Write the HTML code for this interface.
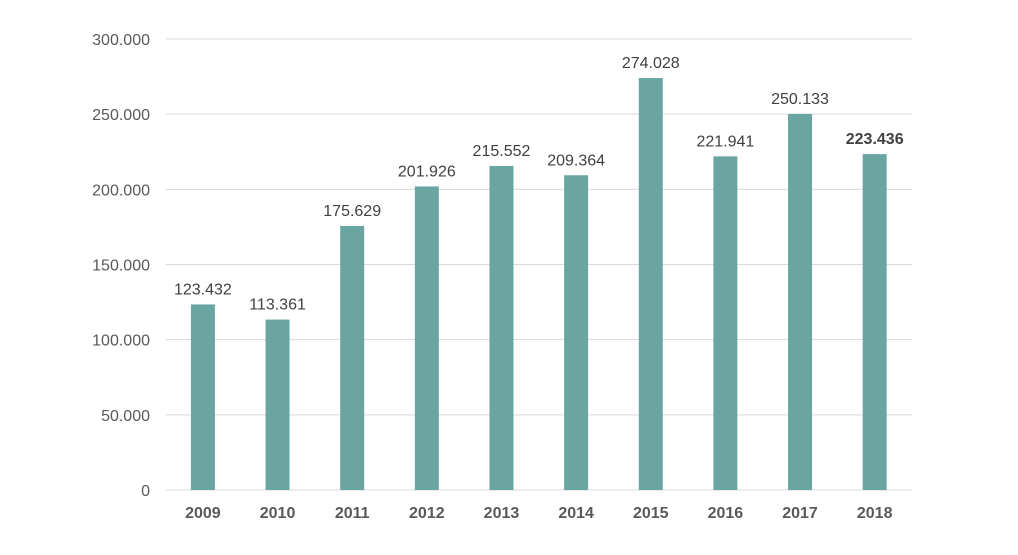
<!DOCTYPE html>
<html><head><meta charset="utf-8"><style>
html,body{margin:0;padding:0;background:#fff;}
svg{display:block;font-family:"Liberation Sans",Arial,sans-serif;}
</style></head><body>
<svg id="chart" width="1018" height="555" viewBox="0 0 1018 555"></svg>
<script>
const categories=["2009","2010","2011","2012","2013","2014","2015","2016","2017","2018"];
const values=[123432,113361,175629,201926,215552,209364,274028,221941,250133,223436];
const valueLabels=["123.432","113.361","175.629","201.926","215.552","209.364","274.028","221.941","250.133","223.436"];
const yTicks=[0,50000,100000,150000,200000,250000,300000];
const yTickLabels=["0","50.000","100.000","150.000","200.000","250.000","300.000"];
const SVGNS="http://www.w3.org/2000/svg";
const chartSvg=document.getElementById("chart");
const plotLeft=165.6,plotRight=912,plotTop=39,plotBottom=490,yMax=300000;
const band=(plotRight-plotLeft)/categories.length,barW=24;
const yScale=v=>plotBottom-(v/yMax)*(plotBottom-plotTop);
const xScale=i=>plotLeft+band*(i+0.5);
function mk(t,a){const e=document.createElementNS(SVGNS,t);for(const k in a)e.setAttribute(k,a[k]);chartSvg.appendChild(e);return e;}
yTicks.forEach((t,i)=>{
  const g=mk("line",{x1:plotLeft,x2:plotRight,y1:yScale(t),y2:yScale(t),stroke:"#d9d9d9","stroke-width":1});
  
  
  const l=mk("text",{x:150,y:yScale(t)+6,"text-anchor":"end","font-size":16,fill:"#595959"});
  l.textContent=yTickLabels[i];
  
  
});
categories.forEach((c,i)=>{
  const b=mk("rect",{x:xScale(i)-barW/2,y:yScale(values[i]),width:barW,height:plotBottom-yScale(values[i]),fill:"#6ba5a2"});
  
  
  const v=mk("text",{x:xScale(i),y:yScale(values[i])-10,"text-anchor":"middle","font-size":16,fill:"#404040"});
  if(i===categories.length-1)v.setAttribute("font-weight","bold");
  v.textContent=valueLabels[i];
  
  
  const t=mk("text",{x:xScale(i),y:518,"text-anchor":"middle","font-size":16,"font-weight":"bold",fill:"#595959"});
  t.textContent=c;
  
  
});
</script>
</body></html>
